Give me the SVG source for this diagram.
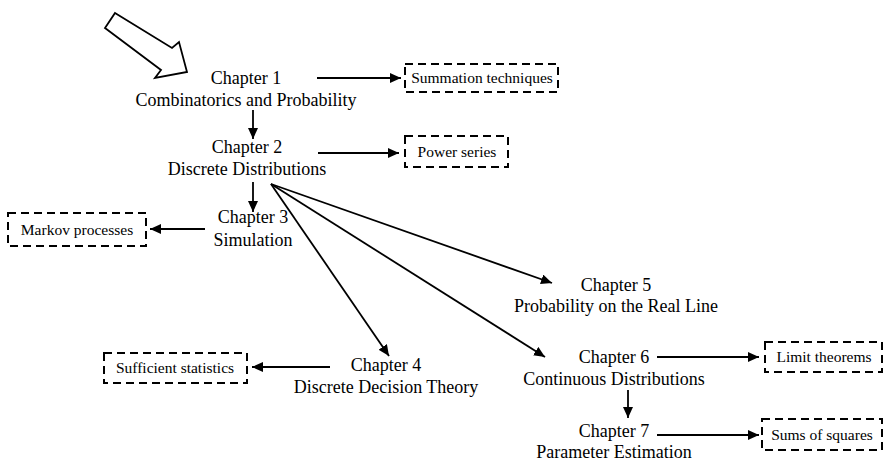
<svg xmlns="http://www.w3.org/2000/svg" width="885" height="462" viewBox="0 0 885 462">
<defs>
<marker id="ah" markerUnits="userSpaceOnUse" markerWidth="12" markerHeight="10" refX="11" refY="5" orient="auto">
<path d="M0,0 L11,5 L0,10 Z" fill="#000"/>
</marker>
<style>
.t{font-family:"Liberation Serif","Times New Roman",serif;font-size:18px;fill:#000;text-anchor:middle}
.b{font-family:"Liberation Serif","Times New Roman",serif;font-size:15.5px;fill:#000;text-anchor:middle}
.box{fill:none;stroke:#000;stroke-width:2;stroke-dasharray:8 5}
.c{fill:none;stroke:#000;stroke-width:1.8;marker-end:url(#ah)}
</style>
</defs>
<rect width="885" height="462" fill="#fff"/>
<g id="start-arrow">
<path d="M115,13 L172,48 L179,42 L187,72 L155,78 L161,70 L105,28 Z" fill="#fff" stroke="#000" stroke-width="1.8" stroke-linejoin="miter"/>
</g>
<g id="connectors">
<line class="c" x1="317" y1="78" x2="401" y2="78"/>
<line class="c" x1="253" y1="110" x2="253" y2="139"/>
<line class="c" x1="318" y1="153" x2="399" y2="153"/>
<line class="c" x1="253" y1="182" x2="253" y2="212"/>
<line class="c" x1="205" y1="229" x2="150" y2="229"/>
<line class="c" x1="271" y1="184" x2="389" y2="356"/>
<line class="c" x1="271" y1="184" x2="552" y2="283"/>
<line class="c" x1="271" y1="184" x2="545" y2="357"/>
<line class="c" x1="330" y1="367" x2="252" y2="367"/>
<line class="c" x1="657" y1="357" x2="759" y2="357"/>
<line class="c" x1="628" y1="390" x2="628" y2="418"/>
<line class="c" x1="657" y1="435" x2="759" y2="435"/>
</g>
<g id="ch1"><text class="t" x="246" y="84">Chapter 1</text><text class="t" x="246" y="106">Combinatorics and Probability</text></g>
<g id="ch2"><text class="t" x="247" y="153">Chapter 2</text><text class="t" x="247" y="175">Discrete Distributions</text></g>
<g id="ch3"><text class="t" x="253" y="223">Chapter 3</text><text class="t" x="253" y="246">Simulation</text></g>
<g id="ch4"><text class="t" x="386" y="371">Chapter 4</text><text class="t" x="386" y="393">Discrete Decision Theory</text></g>
<g id="ch5"><text class="t" x="616" y="291">Chapter 5</text><text class="t" x="616" y="312">Probability on the Real Line</text></g>
<g id="ch6"><text class="t" x="614" y="363">Chapter 6</text><text class="t" x="614" y="385">Continuous Distributions</text></g>
<g id="ch7"><text class="t" x="614" y="437">Chapter 7</text><text class="t" x="614" y="458" font-size="17">Parameter Estimation</text></g>
<g id="summation"><rect class="box" x="405" y="64" width="153" height="28"/><text class="b" x="482" y="83">Summation techniques</text></g>
<g id="power"><rect class="box" x="405" y="136" width="103" height="31"/><text class="b" x="457" y="157">Power series</text></g>
<g id="markov"><rect class="box" x="8" y="213" width="138" height="33"/><text class="b" x="77" y="235">Markov processes</text></g>
<g id="sufficient"><rect class="box" x="104" y="353" width="143" height="30"/><text class="b" x="175" y="373">Sufficient statistics</text></g>
<g id="limit"><rect class="box" x="765" y="342" width="117" height="30"/><text class="b" x="824" y="362">Limit theorems</text></g>
<g id="sums"><rect class="box" x="762" y="419" width="120" height="31"/><text class="b" x="822" y="440">Sums of squares</text></g>
</svg>
